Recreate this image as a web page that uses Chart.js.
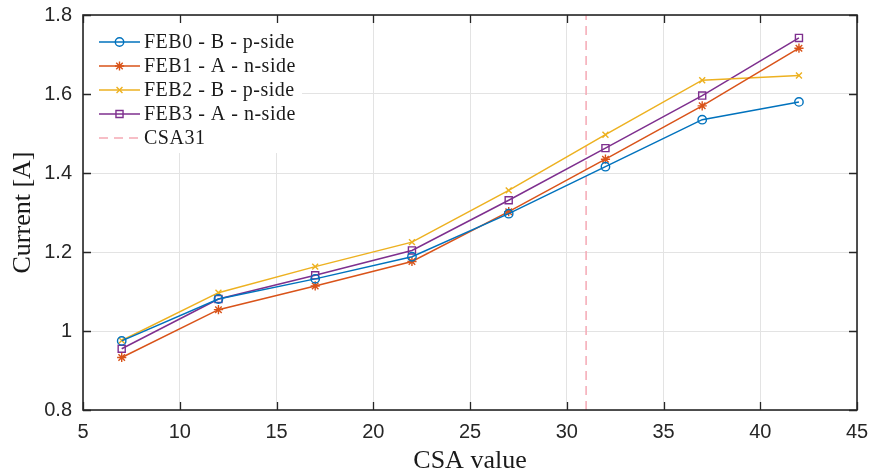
<!DOCTYPE html>
<html>
<head>
<meta charset="utf-8">
<script src="https://cdn.jsdelivr.net/npm/chart.js@4/dist/chart.umd.min.js"></script>
<style>
  html, body { margin: 0; padding: 0; background: #fff; }
  #wrap { width: 873px; height: 474px; }
</style>
</head>
<body>
<div id="wrap"><canvas id="c" width="873" height="474"></canvas></div>
<script>
// CSA setting on the x axis
const csaValues = [7, 12, 17, 22, 27, 32, 37, 42];

// Measured supply current [A] per front-end board
const feb0 = [0.975, 1.081, 1.132, 1.188, 1.297, 1.416, 1.535, 1.580];
const feb1 = [0.933, 1.054, 1.114, 1.176, 1.302, 1.435, 1.570, 1.716];
const feb2 = [0.976, 1.097, 1.163, 1.225, 1.356, 1.497, 1.635, 1.647];
const feb3 = [0.955, 1.081, 1.141, 1.204, 1.331, 1.463, 1.596, 1.742];

const seriesLabels = ['FEB0 - B - p-side', 'FEB1 - A - n-side', 'FEB2 - B - p-side', 'FEB3 - A - n-side'];

// Reference CSA setting drawn as a vertical dashed line
const csaReference = 31;
const csaReferenceLabel = 'CSA31';

// Axis ranges and ticks
const xTicks = [5, 10, 15, 20, 25, 30, 35, 40, 45];
const yTicks = [0.8, 1.0, 1.2, 1.4, 1.6, 1.8];

const toPoints = (ys) => csaValues.map((x, i) => ({ x, y: ys[i] }));

const AXIS_COLOR = '#262626';
const TICK_LEN = 8;

function series(label, values, color, pointStyle, radius) {
  return {
    label,
    data: toPoints(values),
    borderColor: color,
    backgroundColor: color,
    borderWidth: 1.5,
    pointStyle,
    pointRadius: radius,
    pointHoverRadius: radius,
    pointBorderColor: color,
    pointBackgroundColor: 'rgba(0,0,0,0)',
    pointBorderWidth: 1.4,
    tension: 0,
    fill: false
  };
}

const datasets = [
  series(seriesLabels[0], feb0, '#0072BD', 'circle', 4.2),
  series(seriesLabels[1], feb1, '#D95319', 'star', 4.6),
  series(seriesLabels[2], feb2, '#EDB120', 'crossRot', 4.2),
  series(seriesLabels[3], feb3, '#7E2F8E', 'rect', 5),
  {
    label: csaReferenceLabel,
    data: [{ x: csaReference, y: yTicks[0] }, { x: csaReference, y: yTicks[yTicks.length - 1] }],
    borderColor: '#F5A9B4',
    borderWidth: 1.5,
    borderDash: [9, 6],
    pointRadius: 0,
    pointStyle: false,
    fill: false
  }
];

// Small marker painter used by the legend
function drawMarker(ctx, style, x, y, r) {
  ctx.beginPath();
  if (style === 'circle') {
    ctx.arc(x, y, r, 0, Math.PI * 2);
  } else if (style === 'rect') {
    const s = r * Math.SQRT1_2;
    ctx.rect(x - s, y - s, 2 * s, 2 * s);
  } else if (style === 'crossRot') {
    const d = r * Math.SQRT1_2;
    ctx.moveTo(x - d, y - d); ctx.lineTo(x + d, y + d);
    ctx.moveTo(x - d, y + d); ctx.lineTo(x + d, y - d);
  } else if (style === 'star') {
    const d = r * Math.SQRT1_2;
    ctx.moveTo(x - d, y - d); ctx.lineTo(x + d, y + d);
    ctx.moveTo(x - d, y + d); ctx.lineTo(x + d, y - d);
    ctx.moveTo(x, y - r); ctx.lineTo(x, y + r);
    ctx.moveTo(x - r, y); ctx.lineTo(x + r, y);
  }
  ctx.stroke();
}

// Legend box in the upper-left corner of the plot, then the axes box with inward ticks
const framePlugin = {
  id: 'frame',
  afterDraw(chart) {
    const { ctx, chartArea: a } = chart;
    const xs = chart.scales.x, ys = chart.scales.y;
    ctx.save();

    // legend
    ctx.fillStyle = '#ffffff';
    ctx.fillRect(a.left + 1, a.top + 1, 218, 137);
    ctx.font = '20px "Liberation Serif", "Times New Roman", serif';
    ctx.textBaseline = 'middle';
    ctx.textAlign = 'left';
    chart.data.datasets.forEach((ds, i) => {
      const y = a.top + 27 + i * 24;
      const x0 = a.left + 16, x1 = a.left + 57;
      ctx.strokeStyle = ds.borderColor;
      ctx.lineWidth = ds.borderWidth;
      ctx.setLineDash(ds.borderDash || []);
      ctx.beginPath();
      ctx.moveTo(x0, y); ctx.lineTo(x1, y);
      ctx.stroke();
      ctx.setLineDash([]);
      if (ds.pointStyle && ds.pointRadius > 0) {
        ctx.lineWidth = ds.pointBorderWidth;
        drawMarker(ctx, ds.pointStyle, (x0 + x1) / 2, y, ds.pointRadius);
      }
      ctx.fillStyle = '#1a1a1a';
      if ('letterSpacing' in ctx) ctx.letterSpacing = '0.5px';
      ctx.fillText(ds.label, a.left + 61, y + 1);
      if ('letterSpacing' in ctx) ctx.letterSpacing = '0px';
    });

    // inward tick marks on all four sides
    ctx.strokeStyle = AXIS_COLOR;
    ctx.lineWidth = 1.3;
    ctx.beginPath();
    xTicks.forEach(v => {
      const px = Math.round(xs.getPixelForValue(v)) + 0.5;
      ctx.moveTo(px, a.bottom); ctx.lineTo(px, a.bottom - TICK_LEN);
      ctx.moveTo(px, a.top); ctx.lineTo(px, a.top + TICK_LEN);
    });
    yTicks.forEach(v => {
      const py = Math.round(ys.getPixelForValue(v)) + 0.5;
      ctx.moveTo(a.left, py); ctx.lineTo(a.left + TICK_LEN, py);
      ctx.moveTo(a.right, py); ctx.lineTo(a.right - TICK_LEN, py);
    });
    ctx.stroke();

    // box
    ctx.lineWidth = 1.6;
    ctx.strokeRect(a.left, a.top, a.right - a.left, a.bottom - a.top);
    ctx.restore();
  }
};

const tickFont = { family: '"Liberation Sans", Arial, sans-serif', size: 20 };
const titleFont = { family: '"Liberation Serif", "Times New Roman", serif', size: 26, lineHeight: 1.0 };

new Chart(document.getElementById('c'), {
  type: 'line',
  data: { datasets },
  options: {
    responsive: false,
    animation: false,
    devicePixelRatio: 1,
    layout: { padding: { top: 15, right: 16, left: 0, bottom: 0 } },
    plugins: { legend: { display: false }, tooltip: { enabled: false } },
    scales: {
      x: {
        type: 'linear',
        min: xTicks[0],
        max: xTicks[xTicks.length - 1],
        afterBuildTicks: (s) => { s.ticks = xTicks.map(v => ({ value: v })); },
        afterFit: (s) => { s.height = 64; s.paddingLeft = 0; s.paddingRight = 0; },
        grid: { color: '#e3e3e3', lineWidth: 1, drawTicks: false },
        border: { display: false },
        ticks: { font: tickFont, color: AXIS_COLOR, padding: 10, maxRotation: 0, autoSkip: false,
                 callback: (v) => String(+v.toFixed(1)) },
        title: { display: true, text: 'CSA value', font: titleFont, color: '#1a1a1a', padding: { top: 0, bottom: 0 } }
      },
      y: {
        type: 'linear',
        min: yTicks[0],
        max: yTicks[yTicks.length - 1],
        afterBuildTicks: (s) => { s.ticks = yTicks.map(v => ({ value: v })); },
        afterFit: (s) => { s.width = 83; s.paddingTop = 0; s.paddingBottom = 0; },
        grid: { color: '#e3e3e3', lineWidth: 1, drawTicks: false },
        border: { display: false },
        ticks: { font: tickFont, color: AXIS_COLOR, padding: 11, autoSkip: false,
                 callback: (v) => String(+v.toFixed(1)) },
        title: { display: true, text: 'Current [A]', font: titleFont, color: '#1a1a1a', padding: { top: 10, bottom: 0 } }
      }
    }
  },
  plugins: [framePlugin]
});
</script>
</body>
</html>
